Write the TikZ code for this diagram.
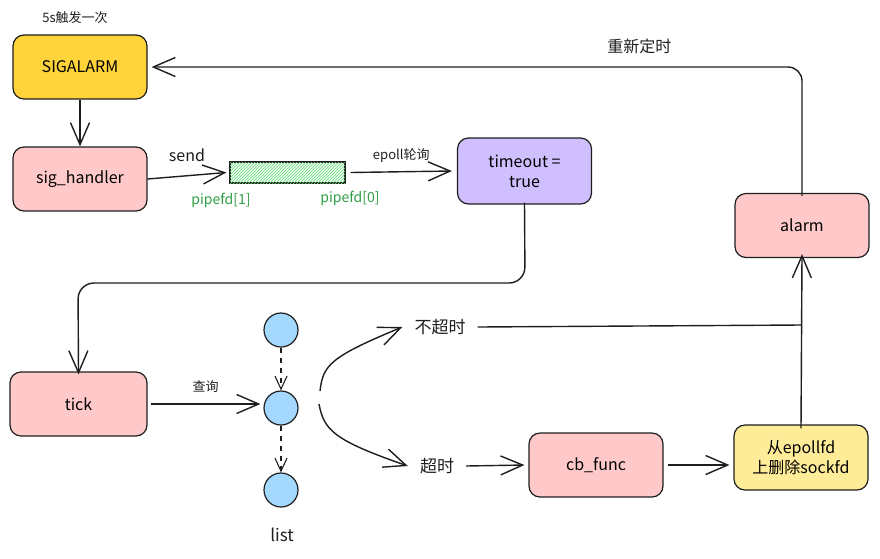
\documentclass[tikz,border=0pt]{standalone}
\usepackage{fontspec}
\setmainfont{Noto Sans CJK SC}
\usetikzlibrary{arrows.meta,patterns}
\definecolor{cyel}{HTML}{FFD43B}
\definecolor{cpink}{HTML}{FFC9C9}
\definecolor{cpurp}{HTML}{D0BFFF}
\definecolor{cblue}{HTML}{A5D8FF}
\definecolor{clyel}{HTML}{FFEC99}
\definecolor{cgreen}{HTML}{2F9E44}
\definecolor{cpipe}{HTML}{EBFBEE}
\definecolor{cpipel}{HTML}{69DB7C}
\definecolor{cink}{HTML}{1E1E1E}
\begin{document}
\begin{tikzpicture}[x=1pt,y=-1pt,
  box/.style={draw=cink, line width=1.2pt, rounded corners=11pt, minimum width=134pt, minimum height=64pt, align=center, inner sep=2pt, font=\fontsize{16}{20}\selectfont},
  arr/.style={-{Straight Barb[length=22pt,width=19pt,line width=1.4pt]}, line width=1.4pt, draw=cink},
  darr/.style={-{Straight Barb[length=13pt,width=12pt,line width=1.1pt]}, line width=1.1pt, draw=cink},
  ln/.style={line width=1.4pt, draw=cink},
  lbl/.style={inner sep=0pt, text=cink},
  dot/.style={circle, draw=cink, line width=1.2pt, fill=cblue, minimum size=34pt, inner sep=0pt}
]
\useasboundingbox (0,0) rectangle (880,558);

% boxes
\node[lbl, font=\fontsize{13}{15}\selectfont] (trig) at (75,18) {5s触发一次};
\node[box, fill=cyel] (sigalarm) at (80,67) {SIGALARM};
\node[box, fill=cpink] (sighandler) at (80,179) {sig\_handler};
\node[box, fill=cpurp, minimum height=66pt] (timeout) at (524.5,171) {timeout =\\true};
\node[box, fill=cpink] (alarm) at (802,225.5) {alarm};
\node[box, fill=cpink, minimum width=137pt] (tick) at (78.5,404) {tick};
\node[box, fill=cpink] (cbfunc) at (596,465) {cb\_func};
\node[box, fill=clyel, minimum height=65pt] (delbox) at (801,457.5) {从epollfd\\上删除sockfd};

% pipe
\node[draw=cink, line width=1.2pt, fill=cpipe, minimum width=115pt, minimum height=21pt, inner sep=0pt,
  postaction={pattern=north east lines, pattern color=cpipel}] (pipe) at (287.5,172.5) {};
\node[lbl, text=cgreen, font=\fontsize{14}{16}\selectfont] (p1) at (221,200) {pipefd[1]};
\node[lbl, text=cgreen, font=\fontsize{14}{16}\selectfont] (p0) at (350,198) {pipefd[0]};

% list circles
\node[dot] (c1) at (281,330) {};
\node[dot] (c2) at (281,408) {};
\node[dot] (c3) at (281,490) {};
\node[lbl, font=\fontsize{17}{19}\selectfont] (list) at (282,535) {list};

% branch labels
\node[lbl, inner sep=12pt, font=\fontsize{17}{19}\selectfont] (nochao) at (440,327) {不超时};
\node[lbl, inner sep=12pt, font=\fontsize{17}{19}\selectfont] (chao) at (437,466) {超时};

% connectors
\draw[arr] (sigalarm.south) -- (sighandler.north);
\draw[arr] (sighandler.east) -- node[lbl, above=13pt, font=\fontsize{16}{18}\selectfont] (send) {send} ([xshift=-3pt]pipe.west);
\draw[arr] ([xshift=5pt]pipe.east) -- node[lbl, above=9pt, font=\fontsize{13}{15}\selectfont] (epl) {epoll轮询} ([xshift=-5pt]timeout.west);

\coordinate (bend1) at (525,283);
\coordinate (bend2) at (78,283);
\draw[arr, rounded corners=16pt] ([yshift=2pt]timeout.south) -- (bend1) -- (bend2) -- ([yshift=-3pt]tick.north);

\draw[arr] ([xshift=3pt]tick.east) -- node[lbl, above=11pt, font=\fontsize{13}{15}\selectfont] (cx) {查询} ([xshift=-3pt]tick.east -| c2.west);
\draw[darr, dash pattern=on 5pt off 5pt] (c1.south) -- (c2.north);
\draw[darr, dash pattern=on 5pt off 5pt] (c2.south) -- (c3.north);

\coordinate (u0) at (320,391);
\coordinate (d0) at (319,404);
\draw[arr] (u0) .. controls (323,365) and (330,357) .. (nochao.west);
\draw[arr] (d0) .. controls (324,430) and (333,440) .. (chao.west);

\draw[arr] (chao.east) -- ([xshift=-4pt]cbfunc.west);
\draw[arr] ([xshift=4pt]cbfunc.east) -- ([xshift=-4pt]cbfunc.east -| delbox.west);

\coordinate (join) at (801,325);
\draw[ln] (nochao.east) -- (join);
\draw[arr] ([yshift=-4pt]delbox.north) -- ([yshift=4pt]alarm.south);

\draw[arr, rounded corners=14pt] ([yshift=-3pt]alarm.north) |- node[lbl, pos=0.625, above=12pt, font=\fontsize{16}{18}\selectfont] (redo) {重新定时} ([xshift=4pt]sigalarm.east);
\end{tikzpicture}
\end{document}
